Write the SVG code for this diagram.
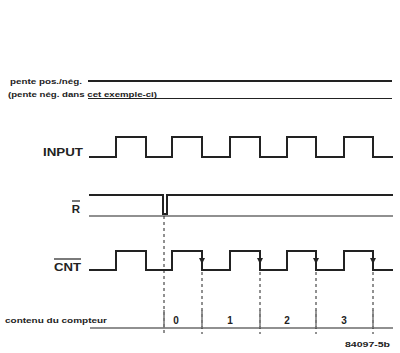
<svg xmlns="http://www.w3.org/2000/svg" width="400" height="353" viewBox="0 0 400 353">
<style>
.t{font-family:"Liberation Sans",Arial,sans-serif;font-weight:bold;fill:#222}
.s{font-size:7.5px}
.l{font-size:11.5px}
.w{fill:none;stroke:#222;stroke-width:2;stroke-linejoin:miter}
.th{fill:none;stroke:#222;stroke-width:1.2}
.d{fill:none;stroke:#222;stroke-width:1;stroke-dasharray:3,3}
.tk{fill:none;stroke:#777;stroke-width:1.5}
.a{stroke:#222;stroke-width:1;marker-end:url(#ar)}
</style>
<defs>
<marker id="ar" viewBox="0 0 6 6" refX="6" refY="3" markerWidth="6" markerHeight="6" orient="auto" markerUnits="userSpaceOnUse">
<path d="M0,0 L6,3 L0,6 Z" fill="#222"/>
</marker>
</defs>
<rect width="400" height="353" fill="#fff"/>
<g id="slope">
<text class="t s" x="10" y="84" textLength="72" lengthAdjust="spacingAndGlyphs">pente pos./nég.</text>
<text class="t s" x="8" y="97" textLength="149" lengthAdjust="spacingAndGlyphs">(pente nég. dans cet exemple-ci)</text>
<line class="w" x1="88" y1="81" x2="392" y2="81"/>
<line class="th" x1="88" y1="98.5" x2="392" y2="98.5"/>
</g>
<g id="input">
<text class="t l" x="43" y="156" textLength="40" lengthAdjust="spacingAndGlyphs">INPUT</text>
<path class="w" d="M89,157 H116 V137 H146 V157 H172 V137 H202 V157 H230 V137 H260 V157 H287 V137 H316 V157 H344 V137 H373 V157 H393"/>
</g>
<g id="reset">
<text class="t l" x="76" y="213" text-anchor="middle">R</text>
<line x1="72" y1="201" x2="80" y2="201" stroke="#222" stroke-width="1.2"/>
<path class="w" d="M89,195 H163 V214 H167 V195 H393"/>
<line class="th" x1="89" y1="216" x2="393" y2="216"/>
</g>
<g id="cnt">
<text class="t l" x="54" y="271" textLength="27" lengthAdjust="spacingAndGlyphs">CNT</text>
<line x1="54" y1="259" x2="81" y2="259" stroke="#222" stroke-width="1.2"/>
<path class="w" d="M89,270 H116 V251 H146 V270 H172 V251 H202 V270 H230 V251 H260 V270 H287 V251 H316 V270 H344 V251 H373 V270 H393"/>
</g>
<g id="connectors">
<line class="d" x1="164" y1="216" x2="164" y2="334"/>
<line class="d" x1="202" y1="272" x2="202" y2="334"/>
<line class="d" x1="260" y1="272" x2="260" y2="334"/>
<line class="d" x1="316" y1="272" x2="316" y2="334"/>
<line class="d" x1="373" y1="272" x2="373" y2="334"/>
<line class="a" x1="202" y1="255" x2="202" y2="264"/>
<line class="a" x1="260" y1="255" x2="260" y2="264"/>
<line class="a" x1="316" y1="255" x2="316" y2="264"/>
<line class="a" x1="373" y1="255" x2="373" y2="264"/>
</g>
<g id="counter">
<text class="t s" x="5" y="323" textLength="102" lengthAdjust="spacingAndGlyphs">contenu du compteur</text>
<line class="th" x1="90" y1="328" x2="393" y2="328"/>
<line class="tk" x1="164" y1="310" x2="164" y2="328"/>
<line class="tk" x1="202" y1="310" x2="202" y2="328"/>
<line class="tk" x1="260" y1="310" x2="260" y2="328"/>
<line class="tk" x1="316" y1="310" x2="316" y2="328"/>
<line class="tk" x1="373" y1="310" x2="373" y2="328"/>
<text class="t" font-size="10" x="176" y="324" text-anchor="middle">0</text>
<text class="t" font-size="10" x="230" y="324" text-anchor="middle">1</text>
<text class="t" font-size="10" x="287" y="324" text-anchor="middle">2</text>
<text class="t" font-size="10" x="344" y="324" text-anchor="middle">3</text>
<text class="t" font-size="7" x="345" y="347" textLength="45" lengthAdjust="spacingAndGlyphs">84097-5b</text>
</g>
</svg>
